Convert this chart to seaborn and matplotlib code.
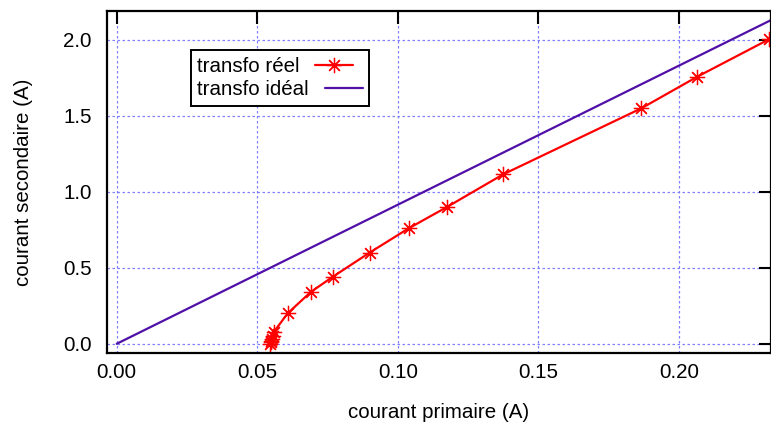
import matplotlib
matplotlib.use("Agg")
import matplotlib.pyplot as plt
import pandas as pd
import seaborn as sns

# mesures du transfo reel
primaire = [0.0545, 0.0548, 0.0550, 0.0552, 0.0555, 0.0558, 0.0608, 0.0690,
            0.0768, 0.0900, 0.1039, 0.1175, 0.1375, 0.1867, 0.2065, 0.2320]
secondaire = [0.00, 0.01, 0.02, 0.03, 0.05, 0.075, 0.20, 0.34,
              0.44, 0.60, 0.76, 0.90, 1.115, 1.55, 1.757, 2.003]

# transfo ideal (droite)
ideal_x = [0.0, 0.2400]
ideal_y = [0.0, 2.196]

x_ticks = [0.00, 0.05, 0.10, 0.15, 0.20]
y_ticks = [0.0, 0.5, 1.0, 1.5, 2.0]

sns.set_style("white")
plt.rcParams["font.family"] = ["Liberation Sans", "DejaVu Sans"]
plt.rcParams["text.color"] = "black"
plt.rcParams["axes.labelcolor"] = "black"
FS = 14.8

fig = plt.figure(figsize=(7.71, 4.30), dpi=100)
ax = fig.add_axes([0.1388, 0.1784, 0.8612, 0.7960])

reel = pd.DataFrame({"x": primaire, "y": secondaire})
ideal = pd.DataFrame({"x": ideal_x, "y": ideal_y})

sns.lineplot(data=reel, x="x", y="y", ax=ax, sort=False, estimator=None,
             color="#ff0000", linewidth=1.6, marker=(8, 2, 0), markersize=11,
             markeredgewidth=0.9, markeredgecolor="#ff0000", label="transfo réel")
sns.lineplot(data=ideal, x="x", y="y", ax=ax, sort=False, estimator=None,
             color="#5010a8", linewidth=1.6, label="transfo idéal")

ax.set_xlim(-0.00345, 0.2328)
ax.set_ylim(-0.0625, 2.19)
ax.set_xticks(x_ticks)
ax.set_yticks(y_ticks)
ax.set_xticklabels([f"{v:.2f}" for v in x_ticks])
ax.set_yticklabels([f"{v:.1f}" for v in y_ticks])

ax.grid(True, color="#8080ff", linestyle=(0, (2, 2)), linewidth=0.9)
ax.tick_params(direction="in", length=9, width=1.5, top=True, right=True,
               labelsize=FS, colors="black")
ax.tick_params(axis="x", pad=7)
ax.tick_params(axis="y", pad=11)
for s in ax.spines.values():
    s.set_color("black")
    s.set_linewidth(1.6)

ax.set_xlabel("courant primaire (A)", fontsize=FS, labelpad=15)
ax.set_ylabel("courant secondaire (A)", fontsize=FS, labelpad=22)

leg = ax.legend(loc="upper left", bbox_to_anchor=(0.126, 0.885), markerfirst=False,
                fontsize=FS, frameon=True, fancybox=False, framealpha=1,
                edgecolor="black", handlelength=1.85, borderpad=0.33,
                labelspacing=0.2, handletextpad=0.75, borderaxespad=0)
leg.get_frame().set_linewidth(1.4)
for col in leg._legend_handle_box.get_children():
    col.align = "left"

fig.savefig("out.png", dpi=100)
